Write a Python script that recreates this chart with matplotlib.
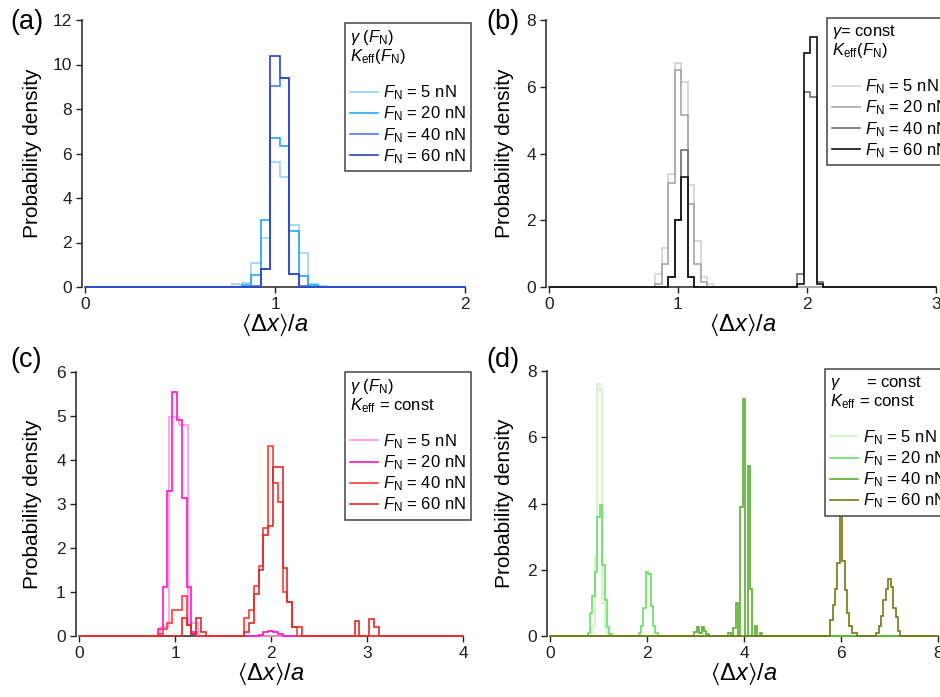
import numpy as np
import matplotlib
matplotlib.use('Agg')
import matplotlib.pyplot as plt
from matplotlib.lines import Line2D

plt.rcParams['font.family'] = ['Liberation Sans', 'DejaVu Sans']
plt.rcParams['mathtext.fontset'] = 'custom'
plt.rcParams['mathtext.rm'] = 'Liberation Sans'
plt.rcParams['mathtext.it'] = 'Liberation Sans:italic'
plt.rcParams['mathtext.bf'] = 'Liberation Sans:bold'
plt.rcParams['mathtext.fallback'] = 'stixsans'

# histogram data: each series is a list of (first bin edge, densities), bin width given separately
forces = ['5', '20', '40', '60']

# (a) gamma(F_N), K_eff(F_N)
a_5nN = [(0.775, [0.15, 0.2, 1.1, 2.2, 5.6, 4.95, 2.8, 1.55, 0.15, 0.05])]
a_20nN = [(0.825, [0.1, 0.55, 3.0, 6.7, 6.33, 2.5, 0.5, 0.1])]
a_40nN = [(0.875, [0.05, 0.8, 9.05, 9.4, 0.6, 0.05])]
a_60nN = [(0.925, [0.8, 10.4, 9.38, 0.6])]

# (b) gamma = const, K_eff(F_N)
b_5nN = [(0.825, [0.38, 1.17, 3.39, 6.72, 6.14, 3.06, 1.38, 0.3, 0.1])]
b_20nN = [(0.825, [0.1, 0.7, 3.13, 6.5, 5.16, 2.5, 0.7, 0.15])]
b_40nN = [(0.925, [0.3, 2.0, 4.09, 0.3]), (1.925, [0.4, 5.84, 5.7, 0.15])]
b_60nN = [(0.925, [0.3, 2.0, 3.31, 0.3]), (1.925, [0.1, 7.0, 7.5, 0.1])]

# (c) gamma(F_N), K_eff = const  (5 nN was binned at 0.1)
c_5nN = [(0.84, [0.2, 4.98, 4.8, 0.3])]
c_20nN = [(0.82, [0.15, 1.12, 3.3, 5.55, 4.9, 3.13, 1.12, 0.1]),
          (1.87, [0.03, 0.08, 0.12, 0.1, 0.05])]
c_40nN = [(0.82, [0.05, 0.15, 0.3, 0.6, 0.6, 0.9, 0.25, 0.05]),
          (1.72, [0.4, 0.58, 1.14, 1.58, 2.46, 4.32, 3.48, 3.04, 1.0, 0.78, 0.2])]
c_60nN = [(1.07, [0.4, 0.25, 0.05, 0.4, 0.1]),
          (1.72, [0.1, 0.3, 0.95, 1.5, 2.3, 2.5, 3.83, 3.83, 1.54, 0.78, 0.2, 0.2]),
          (2.87, [0.35, 0.0, 0.0, 0.38, 0.2])]

# (d) gamma = const, K_eff = const
d_5nN = [(0.875, [0.3, 2.38, 7.6, 7.43, 1.0, 0.2])]
d_20nN = [(0.775, [0.1, 0.68, 1.2, 1.94, 3.6, 3.96, 2.14, 1.09, 0.28, 0.05]),
          (1.825, [0.1, 0.3, 0.85, 1.92, 1.88, 0.9, 0.3, 0.1])]
d_40nN = [(2.975, [0.12, 0.28, 0.1, 0.28, 0.15, 0.05]),
          (3.675, [0.1, 0.0, 0.25, 1.0, 0.0, 3.9, 7.16, 0.0, 5.14, 1.41, 0.0, 0.3, 0.0, 0.1])]
d_60nN = [(5.775, [0.48, 0.94, 1.41, 2.2, 3.71, 2.25, 1.4, 0.7, 0.3, 0.1, 0.1]),
          (6.725, [0.1, 0.3, 0.6, 1.1, 1.41, 1.71, 1.49, 0.84, 0.57, 0.15])]

colors_a = ['#98d4f6', '#22a8f0', '#4c7ae6', '#2b44c6']
colors_b = ['#d2d2d2', '#a6a6a6', '#6e6e6e', '#111111']
colors_c = ['#ff94e6', '#ff14cc', '#ff3a3a', '#e02a2a']
colors_d = ['#c8f5c0', '#66e060', '#5aae2e', '#757512']


def build_stairs(clusters, xmax, width=0.05):
    # pad the clusters with zero bins so the trace runs along the whole axis
    edges = [0.0]
    vals = []
    for start, dens in clusters:
        edges.append(start)
        vals.append(0.0)
        for v in dens:
            vals.append(v)
            edges.append(edges[-1] + width)
    edges.append(xmax)
    vals.append(0.0)
    return np.array(vals), np.array(edges)


gamma_F = r'$\gamma\ (F_\mathrm{N})$'
keff_F = r'$K_\mathrm{eff}(F_\mathrm{N})$'
panels = [
    # label, axes box (px), xmax, ymax, series, widths, colors, header, legend corner (px), label x (px)
    ('(a)', (85, 20, 465, 287), 2, 12, [a_5nN, a_20nN, a_40nN, a_60nN], [0.05] * 4, colors_a,
     gamma_F + '\n' + keff_F, (345, 23), (10, 33)),
    ('(b)', (549, 20, 936, 287), 3, 8, [b_5nN, b_20nN, b_40nN, b_60nN], [0.05] * 4, colors_b,
     r'$\gamma$= const' + '\n' + keff_F, (827, 18), (486, 505)),
    ('(c)', (79, 372, 463, 636), 4, 6, [c_5nN, c_20nN, c_40nN, c_60nN], [0.1, 0.05, 0.05, 0.05], colors_c,
     gamma_F + '\n' + r'$K_\mathrm{eff}$ = const', (345, 372), (10, 33)),
    ('(d)', (550, 371, 938, 636), 8, 8, [d_5nN, d_20nN, d_40nN, d_60nN], [0.05] * 4, colors_d,
     r'$\gamma$      = const' + '\n' + r'$K_\mathrm{eff}$ = const', (825, 369), (486, 505)),
]

W, H = 940.0, 697.0
fig = plt.figure(figsize=(9.4, 6.97), dpi=100)

for lab, box, xmax, ymax, series, widths, cols, header, lgpos, txtx in panels:
    x0, y0, x1, y1 = box
    ax = fig.add_axes([x0 / W, 1 - y1 / H, (x1 - x0) / W, (y1 - y0) / H])
    for s, w, c in zip(series, widths, cols):
        vals, edges = build_stairs(s, xmax, w)
        ax.stairs(vals, edges, color=c, lw=1.2, baseline=None, zorder=3, clip_on=False)
    ax.set_xlim(0, xmax)
    ax.set_ylim(0, ymax)
    ax.set_xticks(np.arange(0, xmax + 1, 1 if xmax <= 4 else 2))
    ax.set_yticks(np.arange(0, ymax + 1, 2 if ymax > 6 else 1))
    for sp in ['top', 'right']:
        ax.spines[sp].set_visible(False)
    for sp in ['left', 'bottom']:
        ax.spines[sp].set_linewidth(1.1)
        ax.spines[sp].set_color('#222222')
    ax.spines['left'].set_position(('outward', 2))
    ax.tick_params(direction='out', length=4.5, width=1.0, labelsize=12.5, colors='#222222', pad=3)

    # legend with header lines as the title
    handles = [Line2D([], [], color=c, lw=1.2) for c in cols]
    labels = [r'$F_\mathrm{N}$ = %s nN' % f for f in forces]
    leg = fig.legend(handles, labels, title=header + '\n ', loc='upper left',
                     bbox_to_anchor=(lgpos[0] / W, 1 - lgpos[1] / H), bbox_transform=fig.transFigure,
                     fontsize=12, title_fontsize=12, alignment='left', frameon=True, fancybox=False,
                     edgecolor='#444444', framealpha=1, borderpad=0.3, labelspacing=0.15,
                     handlelength=1.7, handletextpad=0.3, borderaxespad=0)
    leg.get_frame().set_linewidth(1.1)
    leg.get_title().set_linespacing(1.0)

    # panel letter, axis labels
    fig.text(txtx[0] / W, 1 - 22 / H if y0 < 100 else 1 - 360 / H, lab, fontsize=19.5, va='center', ha='left')
    fig.text(txtx[1] / W, 1 - (y0 + y1) / 2 / H, 'Probability density', rotation=90,
             fontsize=15, ha='center', va='center')
    fig.text((x0 + x1) / 2 / W, 1 - (y1 + 38) / H, r'$\langle\Delta x\rangle/a$', fontsize=17,
             ha='center', va='center')

fig.savefig('out.png', dpi=100)
